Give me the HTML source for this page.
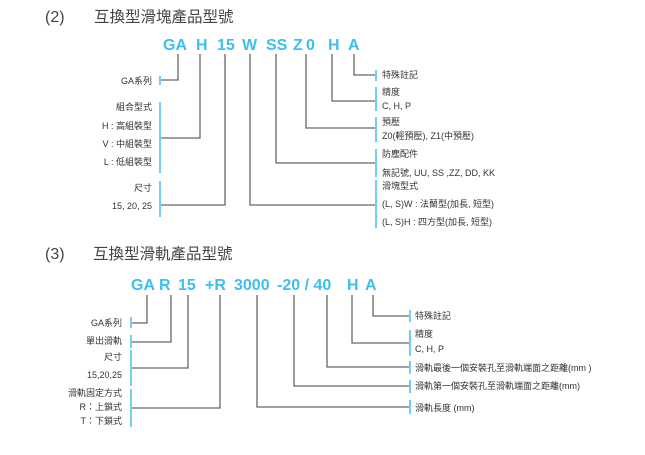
<!DOCTYPE html>
<html><head><meta charset="utf-8"><style>
html,body{margin:0;padding:0;background:#fff;}
svg{display:block;}
.t{font-family:"Liberation Sans","Noto Sans CJK TC",sans-serif;fill:#444;}
.c{font-family:"Liberation Sans",sans-serif;font-weight:bold;font-size:16px;fill:#3dbff0;}
.l{font-family:"Liberation Sans","Noto Sans CJK TC",sans-serif;font-size:9px;fill:#333;}
.ln{stroke:#666;stroke-width:1.3;fill:none;}
.bt{stroke:#4fc3f0;stroke-width:1.6;fill:none;}
</style></head><body>
<svg width="645" height="455" viewBox="0 0 645 455" xmlns="http://www.w3.org/2000/svg">
<!-- Section 2 title -->
<text class="t" x="45" y="22" font-size="16">(2)</text>
<text class="t" x="94" y="22" font-size="15.5">互換型滑塊產品型號</text>
<!-- code -->
<text class="c" x="163" y="50">GA</text>
<text class="c" x="196" y="50">H</text>
<text class="c" x="217" y="50">15</text>
<text class="c" x="242" y="50">W</text>
<text class="c" x="266" y="50">SS</text>
<text class="c" x="293" y="50">Z</text>
<text class="c" x="306" y="50">0</text>
<text class="c" x="328" y="50">H</text>
<text class="c" x="348" y="50">A</text>
<!-- lines -->
<path class="ln" d="M178,54 V80 H161"/>
<path class="ln" d="M200,54 V138 H161"/>
<path class="ln" d="M225,54 V205 H161"/>
<path class="ln" d="M250,54 V205 H375"/>
<path class="ln" d="M276,54 V163 H375"/>
<path class="ln" d="M306,54 V128 H375"/>
<path class="ln" d="M332,54 V101 H375"/>
<path class="ln" d="M354,54 V75 H375"/>
<!-- ticks -->
<path class="bt" d="M160,76 V85 M160,102 V173 M160,181 V217"/>
<path class="bt" d="M376,70 V81 M376,87 V111 M376,117 V142 M376,149 V177 M376,180 V228"/>
<!-- left labels -->
<g class="l" text-anchor="end">
<text x="152" y="84">GA系列</text>
<text x="152" y="110">組合型式</text>
<text x="152" y="129">H : 高組裝型</text>
<text x="152" y="147">V : 中組裝型</text>
<text x="152" y="165">L : 低組裝型</text>
<text x="152" y="191">尺寸</text>
<text x="152" y="209">15, 20, 25</text>
</g>
<!-- right labels -->
<g class="l">
<text x="382" y="78">特殊註記</text>
<text x="382" y="95">精度</text>
<text x="382" y="109">C, H, P</text>
<text x="382" y="125">預壓</text>
<text x="382" y="139">Z0(輕預壓), Z1(中預壓)</text>
<text x="382" y="157">防塵配件</text>
<text x="382" y="176">無記號, UU, SS ,ZZ, DD, KK</text>
<text x="382" y="189">滑塊型式</text>
<text x="382" y="207">(L, S)W : 法蘭型(加長, 短型)</text>
<text x="382" y="225">(L, S)H : 四方型(加長, 短型)</text>
</g>

<!-- Section 3 title -->
<text class="t" x="45" y="259" font-size="16">(3)</text>
<text class="t" x="93" y="259" font-size="15.5">互換型滑軌產品型號</text>
<text class="c" x="131" y="290">GA</text>
<text class="c" x="159" y="290">R</text>
<text class="c" x="178" y="290">15</text>
<text class="c" x="205" y="290">+R</text>
<text class="c" x="234" y="290">3000</text>
<text class="c" x="277" y="290">-20 / 40</text>
<text class="c" x="347" y="290">H</text>
<text class="c" x="365" y="290">A</text>
<path class="ln" d="M147,295 V323 H132"/>
<path class="ln" d="M171,295 V342 H132"/>
<path class="ln" d="M188,295 V368 H132"/>
<path class="ln" d="M220,295 V408 H132"/>
<path class="ln" d="M257,295 V407 H409"/>
<path class="ln" d="M294,295 V386 H409"/>
<path class="ln" d="M327,295 V367 H409"/>
<path class="ln" d="M352,295 V343 H409"/>
<path class="ln" d="M373,295 V316 H409"/>
<path class="bt" d="M131,317 V328 M131,335 V348 M131,350 V386 M131,389 V427"/>
<path class="bt" d="M410,310 V322 M410,330 V356 M410,361 V374 M410,380 V393 M410,400 V414"/>
<g class="l" text-anchor="end">
<text x="122" y="326">GA系列</text>
<text x="122" y="344">單出滑軌</text>
<text x="122" y="360">尺寸</text>
<text x="122" y="378">15,20,25</text>
<text x="122" y="396">滑軌固定方式</text>
<text x="122" y="410">R：上鎖式</text>
<text x="122" y="424">T：下鎖式</text>
</g>
<g class="l">
<text x="415" y="319">特殊註記</text>
<text x="415" y="337">精度</text>
<text x="415" y="352">C, H, P</text>
<text x="415" y="371">滑軌最後一個安裝孔至滑軌端面之距離(mm )</text>
<text x="415" y="389">滑軌第一個安裝孔至滑軌端面之距離(mm)</text>
<text x="415" y="411">滑軌長度 (mm)</text>
</g>
</svg>
</body></html>
